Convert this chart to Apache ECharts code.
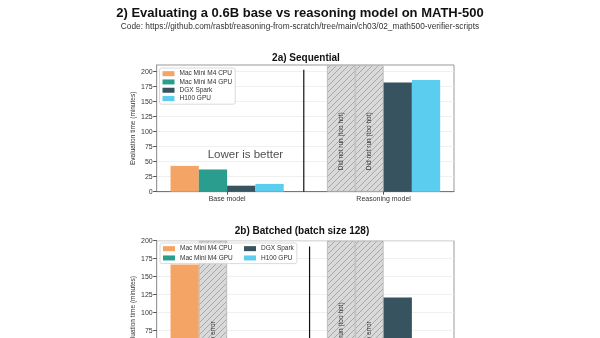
<!DOCTYPE html>
<html><head><meta charset="utf-8">
<script src="https://cdn.jsdelivr.net/npm/echarts@6/dist/echarts.min.js"></script>
<style>html,body{margin:0;padding:0;background:#fff}#c{width:600px;height:338px}</style>
</head><body><div id="c"></div>
<script>
// ---------- data ----------
const groups = ['Base model', 'Reasoning model'];
const devices = ['Mac Mini M4 CPU', 'Mac Mini M4 GPU', 'DGX Spark', 'H100 GPU'];
const yTicks = [0, 25, 50, 75, 100, 125, 150, 175, 200];
// 2a) Sequential, minutes (null = not run, see notes)
const seqCpu = [43, null];
const seqGpu = [37, null];
const seqDgx = [10, 182];
const seqH100 = [13, 186];
const seqCpuNote = [null, 'Did not run (too hot)'];
const seqGpuNote = [null, 'Did not run (too hot)'];
// 2b) Batched (batch size 128), minutes
const batCpu = [167, null];
const batGpu = [null, null];
const batDgx = [12, 121];
const batH100 = [6, 45];
const batCpuNote = [null, 'Did not run (too hot)'];
const batGpuNote = ['Memory error', 'Memory error'];
// separators and annotation (data coordinates)
const seqDivider = [[0.49, 0], [0.49, 203]];
const batDivider = [[0.527, 0], [0.527, 192]];
const seqAnnotation = [[0.117, 61, 'Lower is better']];

// ---------- style ----------
const colors = ['#f4a465', '#2a9d8f', '#37535f', '#5bcdef'];
const FONT = '"Liberation Sans", Arial, Helvetica, sans-serif';
const seqMax = 211, batMax = 200;

function hatch() {
  const c = document.createElement('canvas');
  c.width = 6; c.height = 6;
  const g = c.getContext('2d');
  g.fillStyle = '#d9d9d9'; g.fillRect(0, 0, 6, 6);
  g.strokeStyle = '#9c9c9c'; g.lineWidth = 0.8;
  g.beginPath();
  g.moveTo(-1, 7); g.lineTo(7, -1);
  g.moveTo(-1, 1); g.lineTo(1, -1);
  g.moveTo(5, 7); g.lineTo(7, 5);
  g.stroke();
  return { image: c, repeat: 'repeat' };
}
const HATCH = hatch();

function barData(vals, notes, max) {
  return vals.map((v, i) => {
    if (v === null) {
      return {
        value: [i, max],
        itemStyle: { color: HATCH, borderColor: '#b5b5b5', borderWidth: 0.8 },
        label: {
          show: !!notes[i], formatter: notes[i] || '', rotate: 90,
          position: ['50%', '83%'], align: 'left', verticalAlign: 'middle',
          fontSize: 6.5, color: '#333', fontFamily: FONT
        }
      };
    }
    return { value: [i, v] };
  });
}

function barsFor(idx, sets, max) {
  return sets.map((s, k) => ({
    type: 'bar', name: devices[k], xAxisIndex: idx, yAxisIndex: idx,
    data: barData(s[0], s[1], max), barWidth: 28.3, barGap: '0%',
    itemStyle: { color: colors[k] }, clip: true, z: 2
  }));
}

const noNotes = [null, null];
const series = [
  ...barsFor(0, [[seqCpu, seqCpuNote], [seqGpu, seqGpuNote], [seqDgx, noNotes], [seqH100, noNotes]], seqMax),
  ...barsFor(1, [[batCpu, batCpuNote], [batGpu, batGpuNote], [batDgx, noNotes], [batH100, noNotes]], batMax),
  { type: 'line', xAxisIndex: 0, yAxisIndex: 0, data: seqDivider, symbol: 'none',
    lineStyle: { color: '#111', width: 1.2 }, silent: true, z: 3 },
  { type: 'line', xAxisIndex: 1, yAxisIndex: 1, data: batDivider, symbol: 'none',
    lineStyle: { color: '#111', width: 1.2 }, silent: true, z: 3 },
  { type: 'scatter', xAxisIndex: 0, yAxisIndex: 0, data: seqAnnotation, symbolSize: 1,
    itemStyle: { color: 'transparent' },
    label: { show: true, position: 'inside', formatter: p => p.data[2],
      fontSize: 11.5, color: '#222', fontFamily: FONT }, z: 5 }
];

function xAxis(idx) {
  return {
    type: 'value', gridIndex: idx, min: -0.45, max: 1.45,
    axisLine: { show: true, onZero: false, lineStyle: { color: '#777', width: 1 } },
    axisTick: { show: true, customValues: [0, 1], length: 3, lineStyle: { color: '#555' } },
    axisLabel: { customValues: [0, 1], formatter: v => groups[Math.round(v)],
      fontSize: 7, color: '#333', margin: 4, fontFamily: FONT },
    splitLine: { show: false }
  };
}
function yAxis(idx, max) {
  return {
    type: 'value', gridIndex: idx, min: 0, max: max, interval: 25,
    name: 'Evaluation time (minutes)', nameLocation: 'middle', nameGap: 19,
    nameTextStyle: { fontSize: 6.5, color: '#333', fontFamily: FONT },
    axisLine: { show: true, onZero: false, lineStyle: { color: '#999' } },
    axisTick: { show: true, customValues: yTicks, length: 3.5, lineStyle: { color: '#555' } },
    axisLabel: { customValues: yTicks, fontSize: 7, color: '#333', margin: 4, fontFamily: FONT },
    splitLine: { show: true, lineStyle: { color: '#ececec', width: 0.8 } }
  };
}

const legendBase = {
  icon: 'rect', itemWidth: 12, itemHeight: 5, itemGap: 1,
  textStyle: { fontSize: 6.5, color: '#333', fontFamily: FONT, lineHeight: 7.3 },
  backgroundColor: 'rgba(255,255,255,0.85)', borderColor: '#d0d0d0', borderWidth: 0.8,
  borderRadius: 2, selectedMode: false, orient: 'vertical', z: 10
};
// bottom legend: first column wider so the second column sits further right
const batLegendData = devices.map((d, k) => k < 2 ? { name: d, textStyle: { width: 62 } } : { name: d });

const option = {
  animation: false,
  backgroundColor: '#fff',
  title: [
    { text: '2) Evaluating a 0.6B base vs reasoning model on MATH-500', left: 'center', top: 2,
      textStyle: { fontSize: 13, fontWeight: 'bold', color: '#111', fontFamily: FONT } },
    { text: 'Code: https://github.com/rasbt/reasoning-from-scratch/tree/main/ch03/02_math500-verifier-scripts',
      left: 'center', top: 18, textStyle: { fontSize: 8.3, fontWeight: 'normal', color: '#333', fontFamily: FONT } },
    { text: '2a) Sequential', left: 301, textAlign: 'center', top: 48,
      textStyle: { fontSize: 10, fontWeight: 'bold', color: '#111', fontFamily: FONT } },
    { text: '2b) Batched (batch size 128)', left: 297, textAlign: 'center', top: 221,
      textStyle: { fontSize: 10, fontWeight: 'bold', color: '#111', fontFamily: FONT } }
  ],
  grid: [
    { left: 156.7, top: 65, width: 297.3, height: 126.7, show: true, borderColor: '#999', borderWidth: 1,
      backgroundColor: 'transparent', outerBoundsMode: 'none', containLabel: false },
    { left: 156.7, top: 240.7, width: 297.3, height: 144, show: true, borderColor: '#999', borderWidth: 1,
      backgroundColor: 'transparent', outerBoundsMode: 'none', containLabel: false }
  ],
  xAxis: [xAxis(0), xAxis(1)],
  yAxis: [yAxis(0, seqMax), yAxis(1, batMax)],
  legend: [
    Object.assign({}, legendBase, { data: devices, left: 159.5, top: 68, padding: [2, 3, 2, 3] }),
    Object.assign({}, legendBase, { data: batLegendData, left: 160, top: 243, height: 19, itemGap: 2, padding: [2, 3, 2, 3] })
  ],
  series: series
};

const chart = echarts.init(document.getElementById('c'), null, { renderer: 'canvas' });
chart.setOption(option);
</script>
</body></html>
